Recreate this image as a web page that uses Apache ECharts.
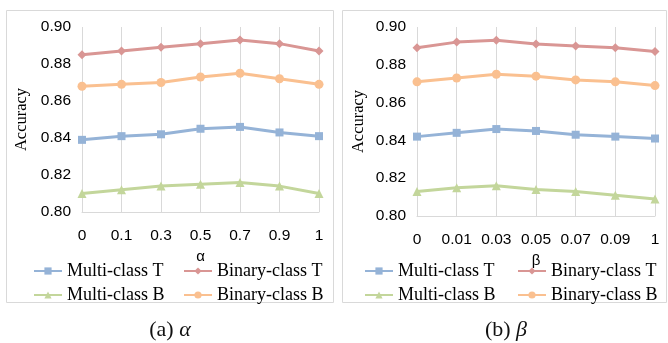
<!DOCTYPE html>
<html><head><meta charset="utf-8">
<script src="https://cdn.jsdelivr.net/npm/echarts@6/dist/echarts.min.js"></script>
<style>html,body{margin:0;padding:0;background:#fff}#c{width:668px;height:343px}</style>
</head><body><div id="c"></div>
<script>
const alphaCats = ['0','0.1','0.3','0.5','0.7','0.9','1'];
const betaCats = ['0','0.01','0.03','0.05','0.07','0.09','1'];
const seriesNames = ['Multi-class T','Binary-class T','Multi-class B','Binary-class B'];
const alphaMultiT = [0.839,0.841,0.842,0.845,0.846,0.843,0.841];
const alphaBinaryT = [0.885,0.887,0.889,0.891,0.893,0.891,0.887];
const alphaMultiB = [0.810,0.812,0.814,0.815,0.816,0.814,0.810];
const alphaBinaryB = [0.868,0.869,0.870,0.873,0.875,0.872,0.869];
const betaMultiT = [0.842,0.844,0.846,0.845,0.843,0.842,0.841];
const betaBinaryT = [0.889,0.892,0.893,0.891,0.890,0.889,0.887];
const betaMultiB = [0.813,0.815,0.816,0.814,0.813,0.811,0.809];
const betaBinaryB = [0.871,0.873,0.875,0.874,0.872,0.871,0.869];
const yTicks = {min:0.80, max:0.90, interval:0.02};

const colors = {'Multi-class T':'#95B3D7','Binary-class T':'#D99694','Multi-class B':'#C3D69B','Binary-class B':'#FAC090'};
const symbols = {'Multi-class T':'rect','Binary-class T':'diamond','Multi-class B':'triangle','Binary-class B':'circle'};
const sizes = {'Multi-class T':8,'Binary-class T':9,'Multi-class B':9,'Binary-class B':9};

function mkSeries(name, data, idx){
  return {name, type:'line', data, xAxisIndex:idx, yAxisIndex:idx, symbol:symbols[name], symbolSize:sizes[name],
    itemStyle:{color:colors[name]}, lineStyle:{color:colors[name], width:3}, animation:false};
}
const axisFont = {fontFamily:'Liberation Sans', fontSize:15.5, color:'#000'};
function xAx(cats, idx, nameTxt, gap){
  return {type:'category', gridIndex:idx, data:cats, boundaryGap:false,
    axisLine:{lineStyle:{color:'#d9d9d9'}}, axisTick:{show:false},
    axisLabel:Object.assign({margin:16}, axisFont),
    splitLine:{show:true, lineStyle:{color:'#d9d9d9'}},
    name:nameTxt, nameLocation:'middle', nameGap:gap, nameTextStyle:{fontFamily:'Liberation Sans', fontSize:15, color:'#000'}};
}
function yAx(idx, gap){
  return {type:'value', gridIndex:idx, min:yTicks.min, max:yTicks.max, interval:yTicks.interval,
    axisLine:{show:false}, axisTick:{show:false}, splitLine:{show:false},
    axisLabel:Object.assign({margin:11, formatter:v=>v.toFixed(2)}, axisFont),
    name:'Accuracy', nameLocation:'middle', nameRotate:90, nameGap:gap,
    nameTextStyle:{fontFamily:'Liberation Serif', fontSize:16.5, color:'#000'}};
}
const legendText = {fontFamily:'Liberation Serif', fontSize:18, color:'#000'};
function leg(names, left){
  return {data:names, orient:'vertical', left, top:262, itemWidth:28, itemHeight:9, itemGap:6,
    textStyle:legendText, selectedMode:false, padding:0};
}
const option = {
  animation:false,
  grid:[{left:82, right:349, top:27, bottom:131},{left:417, right:13, top:27, bottom:127}],
  xAxis:[xAx(alphaCats,0,'α',35), xAx(betaCats,1,'β',28)],
  yAxis:[yAx(0,52), yAx(1,50)],
  legend:[leg(['Multi-class T','Multi-class B'],33), leg(['Binary-class T','Binary-class B'],183),
          leg(['Multi-class T','Multi-class B'],364), leg(['Binary-class T','Binary-class B'],517)],
  series:[
    mkSeries('Multi-class T', alphaMultiT, 0), mkSeries('Binary-class T', alphaBinaryT, 0),
    mkSeries('Multi-class B', alphaMultiB, 0), mkSeries('Binary-class B', alphaBinaryB, 0),
    mkSeries('Multi-class T', betaMultiT, 1), mkSeries('Binary-class T', betaBinaryT, 1),
    mkSeries('Multi-class B', betaMultiB, 1), mkSeries('Binary-class B', betaBinaryB, 1)
  ],
  graphic:[
    {type:'rect', shape:{x:6.5, y:10.5, width:327, height:292}, style:{fill:'none', stroke:'#d9d9d9', lineWidth:1}, silent:true},
    {type:'rect', shape:{x:342.5, y:10.5, width:324, height:292}, style:{fill:'none', stroke:'#d9d9d9', lineWidth:1}, silent:true},
    {type:'text', x:170, y:330, style:{text:'{n|(a) }{i|α}', textAlign:'center', textVerticalAlign:'middle',
      rich:{n:{fontFamily:'Liberation Serif', fontSize:22, fill:'#111'}, i:{fontFamily:'Liberation Serif', fontStyle:'italic', fontSize:22, fill:'#111'}}}},
    {type:'text', x:506, y:330, style:{text:'{n|(b) }{i|β}', textAlign:'center', textVerticalAlign:'middle',
      rich:{n:{fontFamily:'Liberation Serif', fontSize:22, fill:'#111'}, i:{fontFamily:'Liberation Serif', fontStyle:'italic', fontSize:22, fill:'#111'}}}}
  ]
};
const chart = echarts.init(document.getElementById('c'), null, {renderer:'canvas'});
chart.setOption(option);
</script></body></html>
